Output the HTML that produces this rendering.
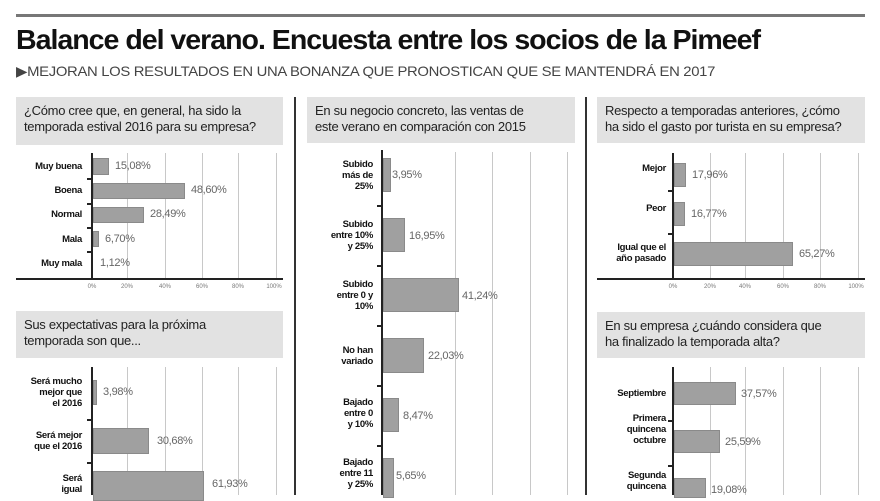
<!DOCTYPE html>
<html><head><meta charset="utf-8"><style>
*{margin:0;padding:0;box-sizing:border-box}
body{width:880px;height:495px;background:#fff;position:relative;overflow:hidden;font-family:"Liberation Sans",sans-serif;color:#111}
.a{position:absolute}
.box{position:absolute;background:#e2e2e2;font-size:13px;line-height:16px;padding:6px 8px;color:#222;letter-spacing:-0.3px;white-space:nowrap}
.g{position:absolute;width:1px;background:#c8c8c8}
.ax{position:absolute;background:#222}
.bar{position:absolute;background:#a0a0a0;border:1px solid #8a8a8a}
.lb{position:absolute;font-size:9.5px;font-weight:bold;text-align:right;line-height:11px;letter-spacing:-0.3px}
.v{position:absolute;font-size:11px;color:#666;letter-spacing:-0.3px}
.t{position:absolute;font-size:6px;color:#777;transform:translateX(-50%)}
.tk{position:absolute;width:5px;height:1.5px;background:#222}
</style></head><body>
<div class="a" style="left:16px;top:14px;width:849px;height:3px;background:#777"></div>
<div class="a" style="left:16px;top:24px;font-size:28px;font-weight:bold;letter-spacing:-1px;transform:scaleX(1.02);transform-origin:left;white-space:nowrap">Balance del verano. Encuesta entre los socios de la Pimeef</div>
<div class="a" style="left:16px;top:63px;font-size:14px;color:#444;transform:scaleX(1.06);transform-origin:left;white-space:nowrap;letter-spacing:-0.3px">▶MEJORAN LOS RESULTADOS EN UNA BONANZA QUE PRONOSTICAN QUE SE MANTENDRÁ EN 2017</div>
<div class="a" style="left:294px;top:97px;width:2px;height:398px;background:#333"></div>
<div class="a" style="left:585px;top:97px;width:2px;height:398px;background:#333"></div>

<div class="box" style="left:16px;top:97px;width:267px;height:48px">¿Cómo cree que, en general, ha sido la<br>temporada estival 2016 para su empresa?</div>
<div class="g" style="left:127px;top:153px;height:125px"></div><div class="g" style="left:165px;top:153px;height:125px"></div><div class="g" style="left:202px;top:153px;height:125px"></div><div class="g" style="left:238px;top:153px;height:125px"></div><div class="g" style="left:276px;top:153px;height:125px"></div>
<div class="bar" style="left:93px;top:158px;width:16px;height:17px"></div>
<div class="bar" style="left:93px;top:183px;width:92px;height:16px"></div>
<div class="bar" style="left:93px;top:207px;width:51px;height:16px"></div>
<div class="bar" style="left:93px;top:231px;width:6px;height:16px"></div>
<div class="ax" style="left:91px;top:153px;width:2px;height:126px"></div>
<div class="ax" style="left:16px;top:278px;width:267px;height:2px"></div>
<div class="tk" style="left:87px;top:178px"></div><div class="tk" style="left:87px;top:203px"></div><div class="tk" style="left:87px;top:227px"></div><div class="tk" style="left:87px;top:251px"></div>
<div class="lb" style="right:798px;top:161px">Muy buena</div>
<div class="lb" style="right:798px;top:185px">Boena</div>
<div class="lb" style="right:798px;top:209px">Normal</div>
<div class="lb" style="right:798px;top:234px">Mala</div>
<div class="lb" style="right:798px;top:258px">Muy mala</div>
<div class="v" style="left:115px;top:160px">15,08%</div>
<div class="v" style="left:191px;top:184px">48,60%</div>
<div class="v" style="left:150px;top:208px">28,49%</div>
<div class="v" style="left:105px;top:233px">6,70%</div>
<div class="v" style="left:100px;top:257px">1,12%</div>
<div class="t" style="left:92px;top:284px">0%</div><div class="t" style="left:127px;top:284px">20%</div><div class="t" style="left:165px;top:284px">40%</div><div class="t" style="left:202px;top:284px">60%</div><div class="t" style="left:238px;top:284px">80%</div><div class="t" style="left:274px;top:284px">100%</div>

<div class="box" style="left:16px;top:311px;width:267px;height:47px">Sus expectativas para la próxima<br>temporada son que...</div>
<div class="g" style="left:127px;top:367px;height:128px"></div><div class="g" style="left:165px;top:367px;height:128px"></div><div class="g" style="left:202px;top:367px;height:128px"></div><div class="g" style="left:238px;top:367px;height:128px"></div><div class="g" style="left:276px;top:367px;height:128px"></div>
<div class="bar" style="left:93px;top:380px;width:4px;height:25px"></div>
<div class="bar" style="left:93px;top:428px;width:56px;height:26px"></div>
<div class="bar" style="left:93px;top:471px;width:111px;height:30px"></div>
<div class="ax" style="left:91px;top:367px;width:2px;height:128px"></div>
<div class="tk" style="left:87px;top:419px"></div><div class="tk" style="left:87px;top:462px"></div>
<div class="lb" style="right:798px;top:376px">Será mucho<br>mejor que<br>el 2016</div>
<div class="lb" style="right:798px;top:430px">Será mejor<br>que el 2016</div>
<div class="lb" style="right:798px;top:473px">Será<br>igual</div>
<div class="v" style="left:103px;top:386px">3,98%</div>
<div class="v" style="left:157px;top:435px">30,68%</div>
<div class="v" style="left:212px;top:478px">61,93%</div>

<div class="box" style="left:307px;top:97px;width:268px;height:46px">En su negocio concreto, las ventas de<br>este verano en comparación con 2015</div>
<div class="g" style="left:455px;top:152px;height:343px"></div><div class="g" style="left:492px;top:152px;height:343px"></div><div class="g" style="left:530px;top:152px;height:343px"></div><div class="g" style="left:567px;top:152px;height:343px"></div>
<div class="bar" style="left:383px;top:158px;width:8px;height:34px"></div>
<div class="bar" style="left:383px;top:218px;width:22px;height:34px"></div>
<div class="bar" style="left:383px;top:278px;width:76px;height:34px"></div>
<div class="bar" style="left:383px;top:338px;width:41px;height:35px"></div>
<div class="bar" style="left:383px;top:398px;width:16px;height:34px"></div>
<div class="bar" style="left:383px;top:458px;width:11px;height:40px"></div>
<div class="ax" style="left:381px;top:150px;width:2px;height:345px"></div>
<div class="tk" style="left:377px;top:205px"></div><div class="tk" style="left:377px;top:265px"></div><div class="tk" style="left:377px;top:325px"></div><div class="tk" style="left:377px;top:385px"></div><div class="tk" style="left:377px;top:445px"></div>
<div class="lb" style="right:507px;top:159px">Subido<br>más de<br>25%</div>
<div class="lb" style="right:507px;top:219px">Subido<br>entre 10%<br>y 25%</div>
<div class="lb" style="right:507px;top:279px">Subido<br>entre 0 y<br>10%</div>
<div class="lb" style="right:507px;top:345px">No han<br>variado</div>
<div class="lb" style="right:507px;top:397px">Bajado<br>entre 0<br>y 10%</div>
<div class="lb" style="right:507px;top:457px">Bajado<br>entre 11<br>y 25%</div>
<div class="v" style="left:392px;top:169px">3,95%</div>
<div class="v" style="left:409px;top:230px">16,95%</div>
<div class="v" style="left:462px;top:290px">41,24%</div>
<div class="v" style="left:428px;top:350px">22,03%</div>
<div class="v" style="left:403px;top:410px">8,47%</div>
<div class="v" style="left:396px;top:470px">5,65%</div>

<div class="box" style="left:597px;top:97px;width:268px;height:46px">Respecto a temporadas anteriores, ¿cómo<br>ha sido el gasto por turista en su empresa?</div>
<div class="g" style="left:710px;top:153px;height:125px"></div><div class="g" style="left:745px;top:153px;height:125px"></div><div class="g" style="left:783px;top:153px;height:125px"></div><div class="g" style="left:820px;top:153px;height:125px"></div><div class="g" style="left:858px;top:153px;height:125px"></div>
<div class="bar" style="left:674px;top:163px;width:12px;height:24px"></div>
<div class="bar" style="left:674px;top:202px;width:11px;height:24px"></div>
<div class="bar" style="left:674px;top:242px;width:119px;height:24px"></div>
<div class="ax" style="left:672px;top:153px;width:2px;height:126px"></div>
<div class="ax" style="left:597px;top:278px;width:268px;height:2px"></div>
<div class="tk" style="left:668px;top:190px"></div><div class="tk" style="left:668px;top:233px"></div>
<div class="lb" style="right:214px;top:163px">Mejor</div>
<div class="lb" style="right:214px;top:203px">Peor</div>
<div class="lb" style="right:214px;top:242px">Igual que el<br>año pasado</div>
<div class="v" style="left:692px;top:169px">17,96%</div>
<div class="v" style="left:691px;top:208px">16,77%</div>
<div class="v" style="left:799px;top:248px">65,27%</div>
<div class="t" style="left:673px;top:284px">0%</div><div class="t" style="left:710px;top:284px">20%</div><div class="t" style="left:745px;top:284px">40%</div><div class="t" style="left:783px;top:284px">60%</div><div class="t" style="left:820px;top:284px">80%</div><div class="t" style="left:856px;top:284px">100%</div>

<div class="box" style="left:597px;top:312px;width:268px;height:46px">En su empresa ¿cuándo considera que<br>ha finalizado la temporada alta?</div>
<div class="g" style="left:710px;top:367px;height:128px"></div><div class="g" style="left:745px;top:367px;height:128px"></div><div class="g" style="left:783px;top:367px;height:128px"></div><div class="g" style="left:820px;top:367px;height:128px"></div><div class="g" style="left:858px;top:367px;height:128px"></div>
<div class="bar" style="left:674px;top:382px;width:62px;height:23px"></div>
<div class="bar" style="left:674px;top:430px;width:46px;height:23px"></div>
<div class="bar" style="left:674px;top:478px;width:32px;height:20px"></div>
<div class="ax" style="left:672px;top:367px;width:2px;height:128px"></div>
<div class="tk" style="left:668px;top:420px"></div><div class="tk" style="left:668px;top:465px"></div>
<div class="lb" style="right:214px;top:388px">Septiembre</div>
<div class="lb" style="right:214px;top:413px">Primera<br>quincena<br>octubre</div>
<div class="lb" style="right:214px;top:470px">Segunda<br>quincena</div>
<div class="v" style="left:741px;top:388px">37,57%</div>
<div class="v" style="left:725px;top:436px">25,59%</div>
<div class="v" style="left:711px;top:484px">19,08%</div>
</body></html>
